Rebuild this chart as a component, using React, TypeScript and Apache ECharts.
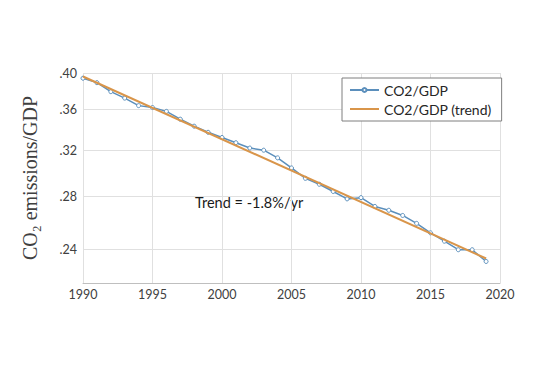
import React, { useEffect, useRef } from "react";
import * as echarts from "echarts";

const years = [
  1990, 1991, 1992, 1993, 1994, 1995, 1996, 1997, 1998, 1999,
  2000, 2001, 2002, 2003, 2004, 2005, 2006, 2007, 2008, 2009,
  2010, 2011, 2012, 2013, 2014, 2015, 2016, 2017, 2018, 2019,
];
const co2gdp = [
  0.394, 0.389, 0.379, 0.372, 0.364, 0.362, 0.358, 0.35, 0.343, 0.337,
  0.332, 0.327, 0.322, 0.32, 0.313, 0.304, 0.295, 0.29, 0.284, 0.278,
  0.279, 0.272, 0.269, 0.265, 0.259, 0.252, 0.246, 0.24, 0.24, 0.232,
];
const trendYears = [1990, 2019];
const trendValues = [0.396, 0.234];
const yTicks = [0.24, 0.28, 0.32, 0.36, 0.4];
const yMin = 0.218;
const yMax = 0.4;
const xTicks = [1990, 1995, 2000, 2005, 2010, 2015, 2020];

const FONT = "Lato, 'Open Sans', sans-serif";

export default function App() {
  const ref = useRef<HTMLDivElement>(null);
  useEffect(() => {
    if (!ref.current) return;
    const chart = echarts.init(ref.current, null, { renderer: "svg" });
    const ln = (v: number) => Math.log(v);
    chart.setOption({
      animation: false,
      backgroundColor: "#ffffff",
      grid: { left: 83, right: 58, top: 73, bottom: 90, containLabel: false },
      xAxis: {
        type: "value",
        min: xTicks[0],
        max: xTicks[xTicks.length - 1],
        interval: 5,
        axisLine: { show: true, lineStyle: { color: "#bfbfbf", width: 1 } },
        axisTick: { show: false },
        axisLabel: {
          color: "#404040",
          fontSize: 12.5,
          fontFamily: FONT,
          margin: 5,
          formatter: (v: number) => String(v),
        },
        splitLine: { show: true, lineStyle: { color: "#e0e0e0", width: 1 } },
      },
      yAxis: {
        type: "value",
        min: ln(yMin),
        max: ln(yMax),
        name: "CO\u2082 emissions/GDP",
        nameLocation: "middle",
        nameGap: 43,
        nameRotate: 90,
        nameTextStyle: {
          fontFamily: "'Liberation Serif', 'DejaVu Serif', serif",
          fontSize: 20,
          color: "#404040",
        },
        axisLine: { show: false },
        axisTick: { show: false, customValues: yTicks.map(ln) },
        axisLabel: {
          customValues: yTicks.map(ln),
          color: "#404040",
          fontSize: 12.5,
          fontFamily: FONT,
          margin: 6,
          formatter: (v: number) => "." + Math.round(Math.exp(v) * 100),
        },
        splitLine: { show: true, lineStyle: { color: "#e0e0e0", width: 1 } },
      },
      legend: {
        left: 342,
        top: 78,
        orient: "vertical",
        backgroundColor: "#ffffff",
        borderColor: "#7f7f7f",
        borderWidth: 1,
        padding: [5, 10, 5, 7],
        itemGap: 5,
        itemWidth: 29,
        itemHeight: 5,
        textStyle: { color: "#262626", fontSize: 14, fontFamily: FONT },
        data: ["CO2/GDP", "CO2/GDP (trend)"],
      },
      graphic: [
        {
          type: "text",
          left: 195,
          top: 195,
          style: {
            text: "Trend = -1.8%/yr",
            fontSize: 14.5,
            fontFamily: FONT,
            fill: "#1a1a1a",
          },
        },
      ],
      series: [
        {
          name: "CO2/GDP",
          type: "line",
          data: years.map((y, i) => [y, ln(co2gdp[i])]),
          symbol: "circle",
          symbolSize: 4,
          itemStyle: { color: "#ffffff", borderColor: "#5b8fbc", borderWidth: 1 },
          lineStyle: { color: "#5b8fbc", width: 1.5 },
          z: 2,
        },
        {
          name: "CO2/GDP (trend)",
          type: "line",
          data: trendYears.map((y, i) => [y, ln(trendValues[i])]),
          symbol: "none",
          itemStyle: { color: "rgba(0,0,0,0)", borderWidth: 0 },
          lineStyle: { color: "#d9954a", width: 2 },
          z: 3,
        },
      ],
    });
    return () => chart.dispose();
  }, []);
  return <div ref={ref} style={{ width: 558, height: 373, position: "absolute", left: 0, top: 0 }} />;
}
